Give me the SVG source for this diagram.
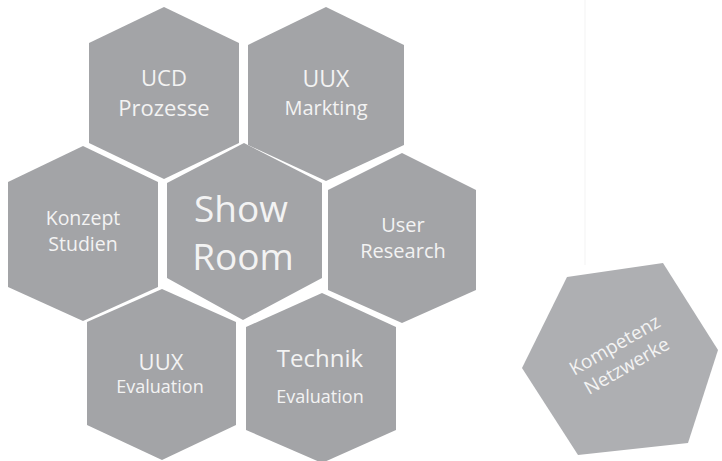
<svg xmlns="http://www.w3.org/2000/svg" width="722" height="461" viewBox="0 0 722 461">
<style>
.hex{fill:#a3a4a7}
.hex2{fill:#aeafb2}
text{font-family:"Open Sans","DejaVu Sans",sans-serif;fill:#f3f3f3;text-anchor:middle}
</style>
<rect width="722" height="461" fill="#ffffff"/>
<line x1="585" y1="0" x2="585" y2="265" stroke="#f3f3f3" stroke-width="1"/>
<g id="ucd">
<polygon class="hex" points="164,7 239,43 239,143 164,179 89,143 89,43"/>
<text x="164" y="86" font-size="22">UCD</text>
<text x="164" y="116" font-size="22">Prozesse</text>
</g>
<g id="uux-markting">
<polygon class="hex" points="326,7 404,45 404,145 326,181 248,145 248,45"/>
<text x="326" y="87" font-size="23">UUX</text>
<text x="326" y="115" font-size="20">Markting</text>
</g>
<g id="konzept">
<polygon class="hex" points="83,146 158,182 158,287 83,321 8,287 8,182"/>
<text x="83" y="225" font-size="19.5">Konzept</text>
<text x="83" y="251" font-size="19.5">Studien</text>
</g>
<g id="showroom">
<polygon class="hex" points="244,143 322,183 322,278 243,320 167,278 167,183"/>
<text x="241" y="222" font-size="37">Show</text>
<text x="243" y="270" font-size="37">Room</text>
</g>
<g id="user-research">
<polygon class="hex" points="402,153 476,190 476,290 402,323 328,290 328,190"/>
<text x="403" y="232" font-size="20">User</text>
<text x="403" y="258" font-size="20">Research</text>
</g>
<g id="uux-evaluation">
<polygon class="hex" points="162,289 236,322 236,425 162,460 87,425 87,322"/>
<text x="161" y="370" font-size="22">UUX</text>
<text x="160" y="393" font-size="18">Evaluation</text>
</g>
<g id="technik">
<polygon class="hex" points="322,293 396,327 396,430 322,463 246,430 246,327"/>
<text x="320" y="367" font-size="24">Technik</text>
<text x="320" y="403" font-size="18">Evaluation</text>
</g>
<g id="kompetenz">
<polygon class="hex2" points="567,277 663,263 718,350 688,443 578,455 522,368"/>
<g transform="translate(621,356) rotate(-30)">
<text x="0" y="-6" font-size="19">Kompetenz</text>
<text x="0" y="18" font-size="19">Netzwerke</text>
</g>
</g>
<g id="connectors"></g>
</svg>
